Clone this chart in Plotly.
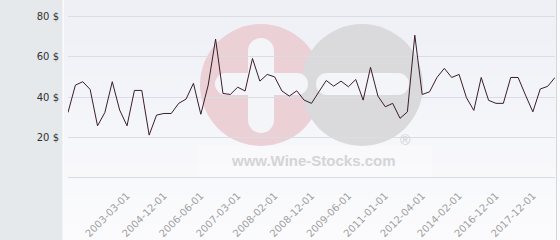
import plotly.graph_objects as go

prices = [32.4, 45.9, 47.6, 43.8, 25.8, 32.4, 47.6, 33.6, 25.8, 43.3,
          43.3, 21.2, 31.1, 31.9, 31.9, 36.9, 39.0, 46.8, 31.5, 45.9,
          68.7, 41.8, 41.3, 44.9, 43.0, 59.1, 47.9, 51.2, 50.0, 43.0,
          40.5, 43.1, 38.5, 36.9, 42.6, 48.2, 45.4, 47.9, 45.1, 48.7,
          38.5, 54.7, 40.5, 35.2, 36.9, 29.5, 32.7, 70.6, 41.3, 42.6,
          49.7, 54.2, 49.7, 51.2, 39.7, 33.4, 49.7, 38.4, 36.9, 36.9,
          49.7, 49.7, 41.0, 32.7, 44.0, 45.3, 49.7]
x_index = list(range(len(prices)))
tick_index = [8, 13, 18, 23, 28, 33, 38, 43, 48, 53, 58, 63]
tick_labels = ["2003-03-01", "2004-12-01", "2006-06-01", "2007-03-01", "2008-02-01",
               "2008-12-01", "2009-06-01", "2011-01-01", "2012-04-01", "2014-02-01",
               "2016-12-01", "2017-12-01"]
y_ticks = [0, 20, 40, 60, 80]
y_labels = ["", "20 $", "40 $", "60 $", "80 $"]

W, H = 560, 240
L, R, T, B = 68, 5, 0, 61
PW, PH = W - L - R, H - T - B

def px(x):
    return (x - L) / PW

def py(y):
    return 1 - (y - T) / PH

shapes = []
# left panel
shapes.append(dict(type="rect", xref="paper", yref="paper", layer="below",
                   x0=px(0), x1=px(62.5), y0=py(240), y1=py(0),
                   fillcolor="#e6e9ec", line_width=0))
# gradient background
top = (238, 240, 246)
bot = (251, 251, 253)
n = 16
for i in range(n):
    t = i / (n - 1)
    c = tuple(int(round(top[k] + (bot[k] - top[k]) * t)) for k in range(3))
    y0 = 240 * i / n
    y1 = 240 * (i + 1) / n
    shapes.append(dict(type="rect", xref="paper", yref="paper", layer="below",
                       x0=px(64), x1=px(556), y0=py(y1 + 0.5), y1=py(y0),
                       fillcolor="rgb(%d,%d,%d)" % c, line_width=0))
shapes.append(dict(type="line", xref="paper", yref="paper", layer="below",
                   x0=px(556.5), x1=px(556.5), y0=py(240), y1=py(0),
                   line=dict(color="#d4d6da", width=1)))

# watermark
def circ(cx, cy, r, color):
    return dict(type="circle", xref="paper", yref="paper", layer="below",
                x0=px(cx - r), x1=px(cx + r), y0=py(cy + r), y1=py(cy - r),
                fillcolor=color, line_width=0)

def rect(x0, y0, x1, y1, color):
    return dict(type="rect", xref="paper", yref="paper", layer="below",
                x0=px(x0), x1=px(x1), y0=py(y1), y1=py(y0),
                fillcolor=color, line_width=0)

# faint box behind url
shapes.append(rect(198, 146, 432, 178, "rgba(255,255,255,0.3)"))
shapes.append(circ(261, 85, 61, "#ebd0d6"))
shapes.append(circ(362, 85, 61, "#dadadc"))
wc = "#f4f5f9"
# vertical bar in pink circle
shapes.append(rect(248, 51, 274, 120, wc))
shapes.append(circ(261, 51, 13, wc))
shapes.append(circ(261, 120, 13, wc))
# horizontal bar in pink circle
shapes.append(rect(226, 73, 297, 95, wc))
shapes.append(circ(226, 84, 11, wc))
shapes.append(circ(297, 84, 11, wc))
# horizontal bar in gray circle
shapes.append(rect(327, 73, 398, 95, wc))
shapes.append(circ(327, 84, 11, wc))
shapes.append(circ(398, 84, 11, wc))

annotations = [
    dict(text="<b>www.Wine-Stocks.com</b>", xref="paper", yref="paper",
         x=px(313), y=py(160), xanchor="center", yanchor="middle", showarrow=False,
         font=dict(family="Liberation Sans, Arial", size=15, color="#d3d4d7")),
    dict(text="®", xref="paper", yref="paper",
         x=px(405), y=py(140), xanchor="center", yanchor="middle", showarrow=False,
         font=dict(family="Liberation Sans, Arial", size=14, color="#cfd0d3")),
]

fig = go.Figure()
fig.add_trace(go.Scatter(x=x_index, y=prices, mode="lines",
                         line=dict(color="#3a1d2a", width=1),
                         hoverinfo="skip", showlegend=False))

fig.update_layout(
    width=W, height=H,
    margin=dict(l=L, r=R, t=T, b=B, pad=0),
    paper_bgcolor="#fbfbfd",
    plot_bgcolor="rgba(0,0,0,0)",
    shapes=shapes,
    annotations=annotations,
    font=dict(family="DejaVu Sans", size=10, color="#333333"),
    xaxis=dict(range=[0, 66], tickmode="array", tickvals=tick_index, ticktext=tick_labels,
               tickangle=-45, showgrid=False, zeroline=False, showline=False,
               tickfont=dict(size=10, color="#a0a0a0"), ticks="", ticklabelstandoff=8),
    yaxis=dict(range=[-0.5, 88], tickmode="array", tickvals=y_ticks, ticktext=y_labels,
               showgrid=True, gridcolor="#dcdde2", gridwidth=1, zeroline=False,
               showline=False, ticks="", ticklabelstandoff=8,
               tickfont=dict(size=10, color="#333333")),
)

fig.write_html("out.html")
